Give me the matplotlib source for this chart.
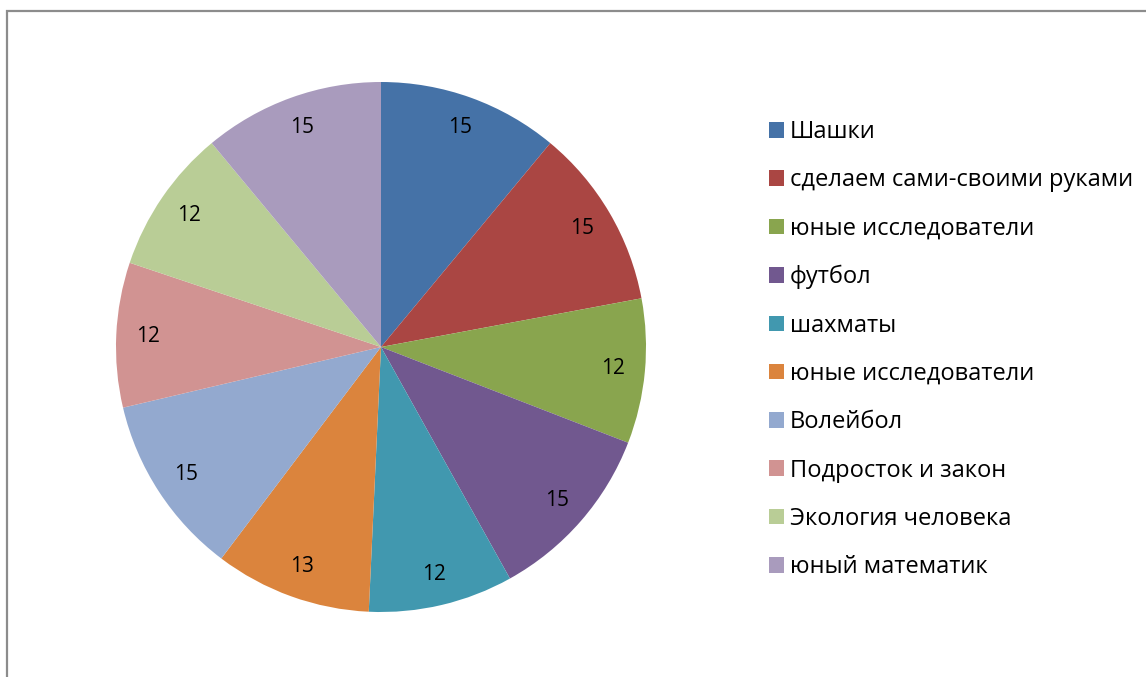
import matplotlib.pyplot as plt
from matplotlib.patches import Rectangle

labels = ['Шашки', 'сделаем сами-своими руками', 'юные исследователи', 'футбол',
          'шахматы', 'юные исследователи', 'Волейбол', 'Подросток и закон',
          'Экология человека', 'юный математик']
values = [15, 15, 12, 15, 12, 13, 15, 12, 12, 15]
colors = ['#4572A7', '#AA4643', '#89A54E', '#71588F', '#4198AF',
          '#DB843D', '#93A9CF', '#D19392', '#B9CD96', '#A99BBD']

plt.rcParams['font.family'] = ['Open Sans', 'DejaVu Sans']

W, H = 1146, 677
fig = plt.figure(figsize=(W / 100, H / 100), dpi=100)

# outer frame (runs off the right and bottom edges)
fig.patches.append(Rectangle((7 / W, -0.05), 1.1, (H - 11) / H + 0.05,
                             transform=fig.transFigure, fill=False,
                             edgecolor='#8c8c8c', linewidth=1.6))

ax = fig.add_axes([116 / W, (H - 612) / H, 530 / W, 530 / H])
total = sum(values)
wedges, _, autotexts = ax.pie(values, colors=colors, startangle=90, counterclock=False,
                              radius=1, pctdistance=0.88,
                              autopct=lambda p: '%d' % round(p * total / 100),
                              wedgeprops=dict(linewidth=0),
                              textprops=dict(fontsize=15, color='black'))
ax.set_xlim(-1, 1)
ax.set_ylim(-1, 1)
ax.set_aspect('equal')

handles = [Rectangle((0, 0), 1, 1, facecolor=c) for c in colors]
fig.legend(handles, labels, loc='upper left', bbox_to_anchor=(769 / W, 1 - 120 / H),
           frameon=False, fontsize=17, handlelength=0.64, handleheight=0.64,
           handletextpad=0.25, labelspacing=1.03, borderpad=0, borderaxespad=0)

fig.savefig('out.png', dpi=100)
